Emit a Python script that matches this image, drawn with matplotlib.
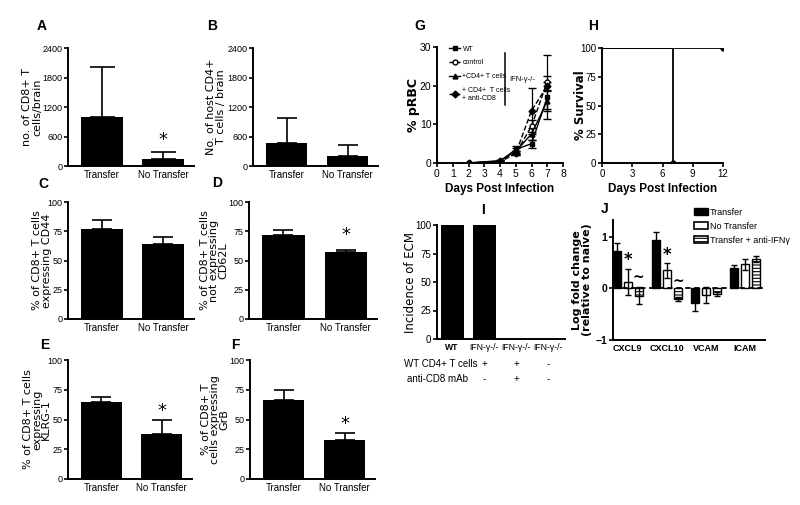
import numpy as np
import matplotlib
matplotlib.use("Agg")
import matplotlib.pyplot as plt
from matplotlib.lines import Line2D
from matplotlib.patches import Patch

W, H = 800, 505
plt.rcParams["font.family"] = ["Liberation Sans", "DejaVu Sans"]
plt.rcParams["hatch.linewidth"] = 0.8

# ---- data ----
groups = ["Transfer", "No Transfer"]

cd8_count = [1000, 150]
cd8_count_err = [1020, 130]
cd4_count = [460, 210]
cd4_count_err = [510, 210]
cd44 = [77, 64]
cd44_err = [8, 6]
cd62l_neg = [72, 57]
cd62l_neg_err = [4, 2]
klrg1 = [65, 38]
klrg1_err = [4, 12]
grb = [66, 33]
grb_err = [9, 6]

days = [2, 4, 5, 6, 7]
prbc_wt = [0.0, 0.5, 3.5, 5.0, 17.0]
prbc_wt_err = [0.1, 0.2, 1.0, 1.0, 5.5]
prbc_ctrl = [0.0, 0.3, 2.5, 9.5, 21.0]
prbc_ctrl_err = [0.1, 0.1, 0.5, 1.5, 7.0]
prbc_cd4 = [0.0, 0.6, 3.0, 7.5, 16.0]
prbc_cd4_err = [0.1, 0.2, 0.8, 1.5, 2.5]
prbc_cd4_acd8 = [0.0, 0.4, 2.5, 13.5, 20.0]
prbc_cd4_acd8_err = [0.1, 0.2, 0.5, 6.0, 1.0]
g_legend = ["WT", "control", "+CD4+ T cells", "+ CD4+  T cells\n+ anti-CD8"]

surv_wt_days = [0, 7]
surv_wt = [100, 0]
surv_ifn_days = [0, 12]
surv_ifn = [100, 100]

ecm_groups = ["WT", "IFN-γ-/-", "IFN-γ-/-", "IFN-γ-/-"]
ecm_incidence = [100, 100, 0, 0]
cd4_given = ["", "+", "+", "-"]
acd8_given = ["", "-", "+", "-"]

genes = ["CXCL9", "CXCL10", "VCAM", "ICAM"]
fc_transfer = [0.72, 0.94, -0.28, 0.39]
fc_transfer_err = [0.17, 0.15, 0.15, 0.06]
fc_notransfer = [0.13, 0.35, -0.13, 0.47]
fc_notransfer_err = [0.25, 0.14, 0.15, 0.11]
fc_antiifng = [-0.14, -0.20, -0.10, 0.57]
fc_antiifng_err = [0.17, 0.04, 0.04, 0.06]
j_legend = ["Transfer", "No Transfer", "Transfer + anti-IFNγ"]

fig = plt.figure(figsize=(W / 100, H / 100), dpi=100)


def px_axes(l, t, r, b):
    return fig.add_axes([l / W, 1 - b / H, (r - l) / W, (b - t) / H])


def style(ax):
    for s in ["top", "right"]:
        ax.spines[s].set_visible(False)
    for s in ["left", "bottom"]:
        ax.spines[s].set_linewidth(1.4)
    ax.tick_params(width=1.2, length=3, labelsize=6.5, pad=1)


def letter(x, y, s):
    fig.text(x / W, 1 - y / H, s, fontsize=10, fontweight="bold",
             ha="center", va="center")


def ylab(ax, text, box, px, bold=False, size=8, ls=1.0):
    l, t, r, b = box
    ax.set_ylabel(text, fontsize=size, family=["DejaVu Sans"], linespacing=ls,
                  fontweight="bold" if bold else "normal", va="center")
    ax.yaxis.set_label_coords((px - l) / (r - l), 0.5)


def bar_panel(box, vals, errs, ymax, ticks, text, label_px, star=None, cap=7.5, ls=1.0):
    ax = px_axes(*box)
    style(ax)
    x = np.arange(len(groups))
    ax.bar(x, vals, width=0.68, color="black")
    ax.errorbar(x, vals, yerr=[np.zeros(len(vals)), errs], fmt="none",
                ecolor="black", elinewidth=1.2, capsize=cap, capthick=1.2)
    ax.set_xlim(-0.55, 1.5)
    ax.set_ylim(0, ymax)
    ax.set_yticks(ticks)
    ax.set_xticks(x, groups)
    ax.tick_params(axis="x", length=0, pad=3, labelsize=7)
    if star is not None:
        ax.text(1, star, "*", ha="center", va="center", fontsize=13,
                family=["DejaVu Sans"])
    ylab(ax, text, box, label_px, ls=ls)
    return ax


# A
box = (68, 48, 194, 166)
bar_panel(box, cd8_count, cd8_count_err, 2400, [0, 600, 1200, 1800, 2400],
          "no. of CD8+ T\ncells/brain", 32, star=520, cap=9)
letter(42, 26, "A")
# B
box = (253, 48, 378, 166)
bar_panel(box, cd4_count, cd4_count_err, 2400, [0, 600, 1200, 1800, 2400],
          "No. of host CD4+\nT cells / brain", 216)
letter(212, 26, "B")
# C
box = (68, 202, 194, 319)
bar_panel(box, cd44, cd44_err, 100, [0, 25, 50, 75, 100],
          "% of CD8+ T cells\nexpressing CD44", 42)
letter(43, 184, "C")
# D
box = (249, 202, 377, 319)
bar_panel(box, cd62l_neg, cd62l_neg_err, 100, [0, 25, 50, 75, 100],
          "% of CD8+ T cells\nnot expressing\nCD62L", 214, star=72, ls=0.9)
letter(217, 183, "D")
# E
box = (68, 360, 192, 479)
bar_panel(box, klrg1, klrg1_err, 100, [0, 25, 50, 75, 100],
          "% of CD8+ T cells\nexpressing\nKLRG-1", 37, star=57, ls=0.9)
letter(45, 345, "E")
# F
box = (250, 360, 375, 479)
bar_panel(box, grb, grb_err, 100, [0, 25, 50, 75, 100],
          "% of CD8+ T\ncells expressing\nGrB", 215, star=46, ls=0.9)
letter(235, 345, "F")

# G
box = (437, 47, 563, 163)
ax = px_axes(*box)
style(ax)
series = [
    (prbc_wt, prbc_wt_err, "-", "s", "black"),
    (prbc_ctrl, prbc_ctrl_err, "--", "o", "white"),
    (prbc_cd4, prbc_cd4_err, "-", "^", "black"),
    (prbc_cd4_acd8, prbc_cd4_acd8_err, "--", "D", "black"),
]
handles = []
for vals, errs, ls, mk, fc in series:
    ax.errorbar(days, vals, yerr=errs, color="black", ls=ls, lw=1.0,
                marker=mk, ms=3.5, mfc=fc, mec="black", capsize=3, elinewidth=0.9)
    handles.append(Line2D([], [], color="black", ls=ls, lw=1.0, marker=mk,
                          ms=3.5, mfc=fc, mec="black"))
ax.set_xlim(0, 8)
ax.set_ylim(0, 30)
ax.set_xticks(range(0, 9))
ax.set_yticks([0, 10, 20, 30])
ax.tick_params(labelsize=7.5)
ax.set_xlabel("Days Post Infection", fontsize=8.5, fontweight="bold", labelpad=3)
ylab(ax, "% pRBC", box, 413, bold=True, size=9)
ax.legend(handles, g_legend, loc="upper left", bbox_to_anchor=(0.07, 1.04),
          frameon=False, fontsize=5, handlelength=1.6, handletextpad=0.3,
          labelspacing=0.95, borderpad=0)
ax.axvline(4.3, ymin=0.5, ymax=0.95, color="black", lw=1.1)
ax.text(0.575, 0.72, "IFN-γ-/-", transform=ax.transAxes, fontsize=5.5, va="center")
letter(420, 26, "G")

# H
box = (602, 48, 723, 163)
ax = px_axes(*box)
style(ax)
ax.step(surv_wt_days, surv_wt, where="post", color="black", lw=1.3,
        marker="o", ms=3.5, markevery=[1])
ax.step(surv_ifn_days, surv_ifn, where="post", color="black", lw=1.3,
        marker="o", ms=3.5, markevery=[1])
ax.set_xlim(0, 12)
ax.set_ylim(0, 100)
ax.set_xticks([0, 3, 6, 9, 12])
ax.set_yticks([0, 25, 50, 75, 100])
ax.tick_params(labelsize=7)
ax.set_xlabel("Days Post Infection", fontsize=8.5, fontweight="bold", labelpad=3)
ylab(ax, "% Survival", box, 580, bold=True, size=8.5)
letter(593, 26, "H")

# I
box = (437, 225, 565, 339)
ax = px_axes(*box)
style(ax)
xi = np.arange(len(ecm_groups))
ax.bar(xi, ecm_incidence, width=0.72, color="black")
ax.set_xlim(-0.47, 3.53)
ax.set_ylim(0, 100)
ax.set_yticks([0, 25, 50, 75, 100])
ax.set_xticks(xi, ecm_groups)
ax.tick_params(axis="x", length=0, pad=3, labelsize=6.2)
ax.get_xticklabels()[0].set_fontweight("bold")
ax.tick_params(axis="y", labelsize=7)
tr = ax.get_xaxis_transform()
ax.text(-0.47 + (478 - 437) / 32, -0.22, "WT CD4+ T cells", transform=tr,
        ha="right", va="center", fontsize=7)
ax.text(-0.47 + (468 - 437) / 32, -0.35, "anti-CD8 mAb", transform=tr,
        ha="right", va="center", fontsize=7)
for i in range(len(ecm_groups)):
    ax.text(xi[i], -0.22, cd4_given[i], transform=tr, ha="center", va="center", fontsize=7)
    ax.text(xi[i], -0.35, acd8_given[i], transform=tr, ha="center", va="center", fontsize=7)
ylab(ax, "Incidence of ECM", box, 410, size=8.5)
letter(483, 210, "I")

# J
box = (613, 220, 765, 340)
ax = px_axes(*box)
style(ax)
xj = np.arange(len(genes))
off, bw = 0.28, 0.2
kw = dict(fmt="none", ecolor="black", elinewidth=1.0, capsize=2.5, capthick=1.0)
ax.bar(xj - off, fc_transfer, bw, color="black", edgecolor="black", lw=1.0)
ax.errorbar(xj - off, fc_transfer, yerr=fc_transfer_err, **kw)
ax.bar(xj, fc_notransfer, bw, color="white", edgecolor="black", lw=1.0)
ax.errorbar(xj, fc_notransfer, yerr=fc_notransfer_err, **kw)
ax.bar(xj + off, fc_antiifng, bw, color="white", edgecolor="black", lw=1.0, hatch="-----")
ax.errorbar(xj + off, fc_antiifng, yerr=fc_antiifng_err, **kw)
ax.axhline(0, color="black", ls=(0, (3, 2)), lw=1.3)
ax.set_xlim(-0.38, 3.51)
ax.set_ylim(-1, 1.33)
ax.set_yticks([-1, 0, 1])
ax.set_xticks(xj, genes)
ax.tick_params(axis="x", length=0, pad=3, labelsize=6.5)
ax.tick_params(axis="y", labelsize=7.5)
for t in ax.get_xticklabels() + ax.get_yticklabels():
    t.set_fontweight("bold")
for gx, gy, s in [(0, 0.55, "*"), (1, 0.65, "*"), (off, 0.2, "~"), (1 + off, 0.13, "~")]:
    ax.text(gx, gy, s, ha="center", va="center", fontsize=12 if s == "*" else 10,
            fontweight="bold", family=["DejaVu Sans"])
jh = [Patch(facecolor="black", edgecolor="black"),
      Patch(facecolor="white", edgecolor="black", lw=1.2),
      Patch(facecolor="white", edgecolor="black", hatch="-----", lw=1.2)]
ax.legend(jh, j_legend, loc="upper left", bbox_to_anchor=(0.5, 1.14),
          frameon=False, fontsize=6.5, handlelength=1.6, handleheight=0.9,
          handletextpad=0.2, labelspacing=0.55, borderpad=0)
ylab(ax, "Log fold change\n(relative to naive)", box, 582, bold=True, size=8)
letter(605, 209, "J")

fig.savefig("out.png", dpi=100)
